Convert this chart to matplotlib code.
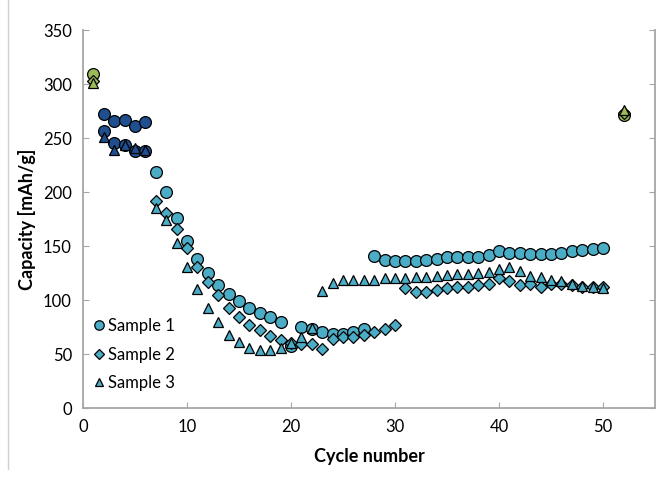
import matplotlib.pyplot as plt
from matplotlib.lines import Line2D

plt.rcParams['font.family'] = ['Lato', 'DejaVu Sans']

light = "#4bacc6"
dark = "#1f4f8f"
green = "#9bbb59"

# light blue series, cycles 7..50 (sample 2 stops at 30, resumes 31..50)
s1_cycles = list(range(7, 51))
s1_cap = [219, 200, 176, 155, 138, 125, 114, 106, 99, 93, 88, 84, 80, 57,
          75, 73, 70, 69, 69, 70, 73, 141, 137, 136, 136, 136, 137, 138, 140, 140,
          140, 140, 142, 145, 144, 144, 143, 143, 143, 144, 145, 146, 147, 148]

s2_cycles = list(range(7, 51))
s2_cap = [192, 181, 166, 148, 131, 117, 105, 93, 84, 77, 72, 67, 63, 60,
          59, 59, 55, 64, 66, 66, 68, 70, 73, 77, 111, 107, 107, 109, 111, 112,
          112, 114, 115, 120, 118, 114, 115, 112, 115, 115, 114, 112, 112, 112]

s3_cycles = list(range(7, 51))
s3_cap = [185, 174, 153, 131, 110, 93, 80, 68, 61, 56, 54, 54, 56, 60,
          66, 74, 108, 116, 119, 119, 119, 119, 120, 120, 120, 121, 121, 122, 123, 124,
          124, 125, 126, 129, 131, 127, 122, 121, 119, 118, 115, 113, 112, 111]

# dark blue first cycles
dark_cycles = [2, 3, 4, 5, 6]
dark_upper = [272, 266, 267, 261, 265]
dark_lower = [257, 245, 244, 238, 238]
dark_tri = [251, 239, 244, 241, 239]

# green points (first cycle and cycle 52)
green_cycles = [1, 52]
green_circ = [309, 271]
green_diam = [303, 273]
green_tri = [301, 276]

fig = plt.figure(figsize=(6.62, 4.79), dpi=100)
ax = fig.add_axes([0.1254, 0.1482, 0.864, 0.789])

ms = 8.5
kw = dict(linestyle="none", markeredgecolor="black", markeredgewidth=0.9)
ax.plot(s1_cycles, s1_cap, marker="o", markersize=ms, color=light, label="Sample 1", **kw)
ax.plot(s2_cycles, s2_cap, marker="D", markersize=ms * 0.72, color=light, label="Sample 2", **kw)
ax.plot(s3_cycles, s3_cap, marker="^", markersize=ms * 0.85, color=light, label="Sample 3", **kw)

ax.plot(dark_cycles, dark_upper, marker="o", markersize=ms, color=dark, **kw)
ax.plot(dark_cycles, dark_lower, marker="o", markersize=ms, color=dark, **kw)
ax.plot(dark_cycles, dark_tri, marker="^", markersize=ms * 0.85, color=dark, **kw)

ax.plot(green_cycles, green_circ, marker="o", markersize=ms, color=green, **kw)
ax.plot(green_cycles, green_diam, marker="D", markersize=ms * 0.72, color=green, **kw)
ax.plot(green_cycles, green_tri, marker="^", markersize=ms * 0.85, color=green, **kw)

ax.set_xlim(0, 55)
ax.set_ylim(0, 350)
ax.set_xticks(range(0, 51, 10))
ax.set_yticks(range(0, 351, 50))

spine_c = "#a6a6a6"
ax.spines["top"].set_visible(False)
for s in ["left", "bottom", "right"]:
    ax.spines[s].set_color(spine_c)
    ax.spines[s].set_linewidth(1.3)
ax.tick_params(axis="both", direction="in", length=4, color=spine_c, labelsize=12, pad=8)
ax.tick_params(axis="y", right=True, labelright=False)

ax.set_xlabel("Cycle number", fontsize=13, fontweight="bold", labelpad=9)
ax.set_ylabel("Capacity [mAh/g]", fontsize=13, fontweight="bold", labelpad=5)

leg = ax.legend(loc="lower left", bbox_to_anchor=(-0.015, 0.005), frameon=False,
                fontsize=12, handletextpad=-0.1, labelspacing=0.75, markerscale=0.8,
                handlelength=1.2)

fig.add_artist(Line2D([0.012, 0.012], [0.02, 1.0], color="#d0d0d0", linewidth=1,
                      transform=fig.transFigure))

fig.savefig("out.png", dpi=100)
